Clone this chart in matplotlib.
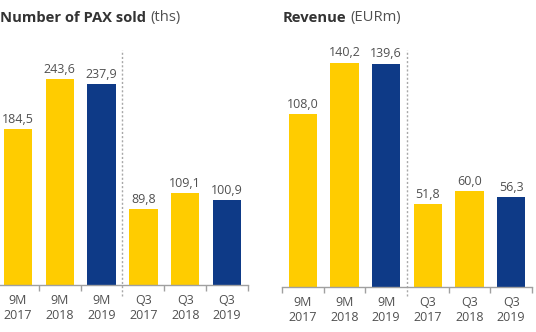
import matplotlib
matplotlib.use("Agg")
import matplotlib.pyplot as plt

categories = ["9M\n2017", "9M\n2018", "9M\n2019", "Q3\n2017", "Q3\n2018", "Q3\n2019"]
pax_values = [184.5, 243.6, 237.9, 89.8, 109.1, 100.9]
revenue_values = [108.0, 140.2, 139.6, 51.8, 60.0, 56.3]
bar_colors = ["#FFCC00", "#FFCC00", "#0E3A87", "#FFCC00", "#FFCC00", "#0E3A87"]

plt.rcParams['font.family'] = ['Open Sans', 'DejaVu Sans']

W, H = 536, 332
fig = plt.figure(figsize=(W / 100, H / 100), dpi=100)

def fmt(v):
    return f"{v:.1f}".replace(".", ",")

def panel(x0, x1, base_y, top_y, ymax, values, title_bold, title_norm, title_x):
    ax = fig.add_axes([x0 / W, (H - base_y) / H, (x1 - x0) / W, (base_y - top_y) / H])
    n = len(values)
    xs = list(range(n))
    ax.bar(xs, values, width=0.68, color=bar_colors, zorder=2)
    ax.set_xlim(-0.5, n - 0.5)
    ax.set_ylim(0, ymax)
    for s in ["top", "right", "left"]:
        ax.spines[s].set_visible(False)
    ax.spines["bottom"].set_color("#A0A0A0")
    ax.spines["bottom"].set_linewidth(1)
    ax.set_yticks([])
    ax.set_xticks(xs)
    ax.set_xticklabels(categories, fontsize=9, color="#505050", linespacing=1.15)
    ax.tick_params(axis="x", which="major", length=0, pad=6.5)
    bounds = [i - 0.5 for i in range(n + 1) if i != 3]
    ax.set_xticks(bounds, minor=True)
    ax.tick_params(axis="x", which="minor", length=4, color="#A0A0A0", width=1, direction="out")
    for x, v in zip(xs, values):
        ax.annotate(fmt(v), (x, v), xytext=(0, 4.5), textcoords="offset points",
                    ha="center", va="baseline", fontsize=9, color="#505050")
    h = base_y - top_y
    ax.axvline(2.5, ymin=-(296 - base_y) / h, ymax=(base_y - 50) / h, color="#A8A8A8",
               linestyle=(0, (1.5, 1.5)), linewidth=1, clip_on=False, zorder=1)
    t = fig.text(title_x / W, 1 - 21.5 / H, title_bold, fontsize=10.6, fontweight="bold",
                 color="#333333", va="baseline", ha="left")
    fig.canvas.draw()
    r = fig.canvas.get_renderer()
    bb = t.get_window_extent(r)
    fig.text((bb.x1 + 4) / W, 1 - 21.5 / H, title_norm, fontsize=10.6, color="#505050",
             va="baseline", ha="left")
    return ax

panel(-3, 248, 285, 40, 290, pax_values, "Number of PAX sold", "(ths)", 0)
panel(282, 532, 287, 47, 150, revenue_values, "Revenue", "(EURm)", 283)

fig.savefig("out.png", dpi=100)
